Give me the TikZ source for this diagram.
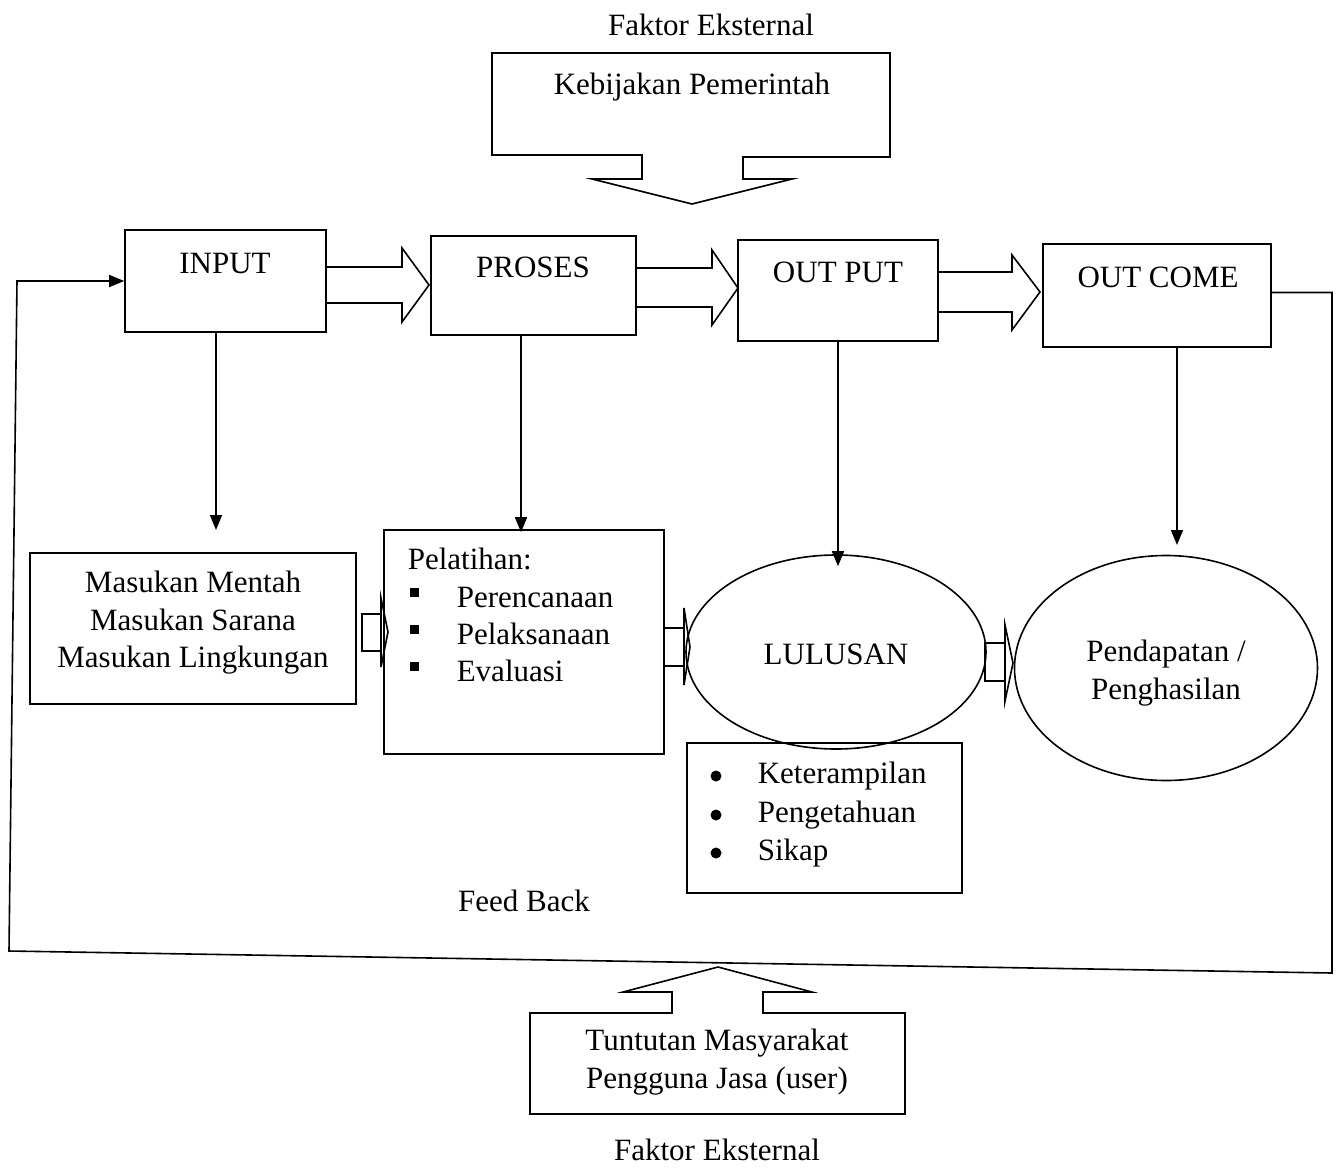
\documentclass[tikz,border=0pt]{standalone}
\usepackage{fontspec}
\setmainfont{Liberation Serif}
\usetikzlibrary{arrows.meta,shapes.geometric,calc}
\begin{document}
\begin{tikzpicture}[x=1pt,y=-1pt,line width=1.6pt,
  every node/.style={font=\fontsize{31}{37.5}\selectfont},
  box/.style={draw,rectangle,inner sep=0pt},
  oval/.style={draw,ellipse,inner sep=0pt,align=center},
  arr/.style={-{Triangle[length=15pt,width=12pt]}},
  txt/.style={inner sep=0pt}]
\useasboundingbox (0,0) rectangle (1336,1168);

% top external factor
\node[txt] (fe1) at (711,25) {Faktor Eksternal};
\draw (492,53) -- (890,53) -- (890,157) -- (743,157) -- (743,179) -- (792,179)
  -- (692,204) -- (592,179) -- (642,179) -- (642,155) -- (492,155) -- cycle;
\node[txt] (keb) at (692,87) {Kebijakan Pemerintah};

% main row boxes
\node[box,minimum width=201pt,minimum height=102pt] (input) at (225.5,281) {};
\node[txt] at (225,263) {INPUT};
\node[box,minimum width=205pt,minimum height=99pt] (proses) at (533.5,285.5) {};
\node[txt] at (533,267) {PROSES};
\node[box,minimum width=200pt,minimum height=101pt] (output) at (838,290.5) {};
\node[txt] at (838,272) {OUT PUT};
\node[box,minimum width=228pt,minimum height=103pt] (outcome) at (1157,295.5) {};
\node[txt] at (1158,277) {OUT COME};

% block arrows between main boxes
\draw (326,267) -- (402,267) -- (402,248) -- (429,285) -- (402,322) -- (402,303) -- (326,303);
\draw (636,268) -- (712,268) -- (712,250) -- (738,288) -- (712,325) -- (712,307) -- (636,307);
\draw (938,272) -- (1012,272) -- (1012,255) -- (1040,292) -- (1012,330) -- (1012,312) -- (938,312);

% lower row
\node[box,minimum width=326pt,minimum height=151pt] (masukan) at (193,628.5) {};
\node[txt,align=center] at (193,623) {Masukan Mentah\\Masukan Sarana\\Masukan Lingkungan};

\node[box,minimum width=280pt,minimum height=224pt] (pelatihan) at (524,642) {};
\node[txt,anchor=west] at (407,559) {Pelatihan:};
\foreach \y/\t in {597/Perencanaan,634/Pelaksanaan,671/Evaluasi}{
  \fill (410,\y-9) rectangle ++(9,9);
  \node[txt,anchor=west] at (456,\y) {\t};
}

\node[oval,minimum width=300pt,minimum height=194pt] (lulusan) at (836,652) {};
\node[txt] at (836,654) {LULUSAN};
\node[oval,minimum width=303pt,minimum height=225pt] (pendapatan) at (1166,668) {};
\node[txt,align=center] at (1166,673) {Pendapatan /\\Penghasilan};

\node[box,minimum width=275pt,minimum height=150pt] (skill) at (824.5,818) {};
\foreach \y/\t in {776/Keterampilan,815/Pengetahuan,853/Sikap}{
  \fill (716,\y) circle (5.5pt);
  \node[txt,anchor=west] at (757,\y) {\t};
}

% small block arrows
\draw (381,614) -- (362,614) -- (362,651) -- (381,651);
\draw (381,598) -- (381,667) -- (388,632) -- cycle;
\draw (664,628) -- (684,628);
\draw (664,666) -- (684,666);
\draw (684,608) -- (684,685) -- (690,647) -- cycle;
\draw (1005,643) -- (985,643) -- (985,681) -- (1005,681);
\draw (1005,625) -- (1005,701) -- (1013,663) -- cycle;

% vertical arrows
\draw[arr] ($(input.south)+(-9.5,0)$) -- (216,530);
\draw[arr] ($(proses.south)+(-12.5,0)$) -- ($(pelatihan.north)+(-3,3)$);
\draw[arr] (output.south) -- ($(lulusan.north)+(2,12)$);
\draw[arr] ($(outcome.south)+(20,0)$) -- (1177,545);

% feedback loop
\draw[arr] ($(outcome.east)+(0,-3)$) -- (1332,292.5) -- (1332,973) -- (9,951) -- (17,281) -- (input.west);
\node[txt] (fb) at (524,901) {Feed Back};

% bottom external factor
\draw (530,1013) -- (672,1013) -- (672,992) -- (623,992) -- (718,967) -- (812,992)
  -- (763,992) -- (763,1013) -- (905,1013) -- (905,1114) -- (530,1114) -- cycle;
\node[txt,align=center] (tuntutan) at (717,1062) {Tuntutan Masyarakat\\Pengguna Jasa (user)};
\node[txt] (fe2) at (717,1150) {Faktor Eksternal};
\end{tikzpicture}
\end{document}
